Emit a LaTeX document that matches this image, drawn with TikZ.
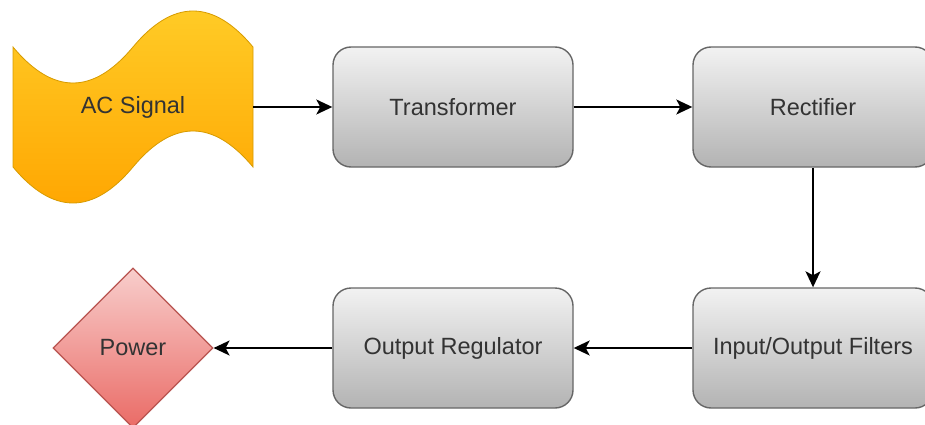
\documentclass[tikz,border=0pt]{standalone}
\usepackage{fontspec}
\setmainfont{Liberation Sans}
\usetikzlibrary{shapes.geometric,arrows.meta,shadings}
\definecolor{txt}{HTML}{333333}
\definecolor{boxtop}{HTML}{F2F2F2}
\definecolor{boxbot}{HTML}{B3B3B3}
\definecolor{boxline}{HTML}{666666}
\definecolor{actop}{HTML}{FFCD28}
\definecolor{acbot}{HTML}{FFA500}
\definecolor{acline}{HTML}{D79B00}
\definecolor{pwtop}{HTML}{F8CECC}
\definecolor{pwbot}{HTML}{EA6B66}
\definecolor{pwline}{HTML}{B85450}
\tikzset{
  lbl/.style={font=\fontsize{23.5}{28}\selectfont, text=txt},
  graybox/.style={lbl, draw=boxline, line width=1.4pt, rounded corners=18pt,
    top color=boxtop, bottom color=boxbot, minimum width=240pt, minimum height=120pt, inner sep=0pt},
  powershape/.style={lbl, diamond, draw=pwline, line width=1.2pt, top color=pwtop, bottom color=pwbot,
    minimum width=160pt, minimum height=160pt, inner sep=0pt, aspect=1},
  conn/.style={line width=1.6pt, -{Stealth[length=16pt,width=15pt,inset=4pt]}}
}
\begin{document}
\begin{tikzpicture}[x=1pt,y=-1pt]
\useasboundingbox (0,0) rectangle (925,425);
% AC signal tape shape
\path[draw=acline, line width=0.8pt, top color=actop, bottom color=acbot]
  (13,47) .. controls (53,95) and (93,95) .. (133,47)
  .. controls (173,-1) and (213,-1) .. (253,47)
  -- (253,167)
  .. controls (213,119) and (173,119) .. (133,167)
  .. controls (93,215) and (53,215) .. (13,167) -- cycle;
\node[lbl, minimum width=240pt, minimum height=120pt, inner sep=0pt] (ac) at (133,107) {AC Signal};
\node[graybox] (tr) at (453,107) {Transformer};
\node[graybox] (re) at (813,107) {Rectifier};
\node[graybox] (fi) at (813,348) {Input/Output Filters};
\node[graybox] (rg) at (453,348) {Output Regulator};
\node[powershape] (pw) at (133,348) {Power};
\draw[conn] (ac.east) -- (tr.west);
\draw[conn] (tr.east) -- (re.west);
\draw[conn] (re.south) -- (fi.north);
\draw[conn] (fi.west) -- (rg.east);
\draw[conn] (rg.west) -- (pw.east);
\end{tikzpicture}
\end{document}
